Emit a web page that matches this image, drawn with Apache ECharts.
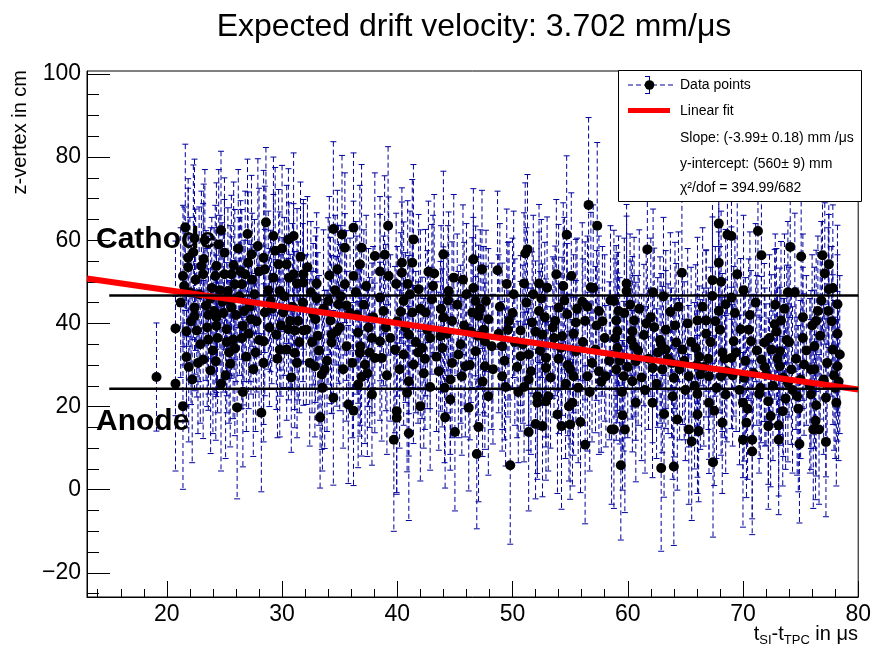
<!DOCTYPE html>
<html><head><meta charset="utf-8">
<script src="https://cdn.jsdelivr.net/npm/echarts@6/dist/echarts.min.js"></script>
<style>html,body{margin:0;padding:0;background:#fff}#c{width:874px;height:651px}</style>
</head><body><div id="c"></div>
<script>
// ---- data (t in µs, z in cm, error in cm) ----
const t1 = [19.1,20.75,20.75,21.4,21.7,21.7,22.6,21.6,21.85,21.4, 22.3,23.0,23.15,22.4,22.4,23.15,23.6,23.8,24.25,24.7, 24.7,25.0,24.2,24.3,25.0,25.6,24.3,24.3,25.2,25.5, 25.75,26.1,26.6,26.5,26.6,26.5,26.8,27.05,27.35,25.9, 27.9,27.6,28.2,25.6,23.4,21.85, 22.0,23.8,24.8,25.3,26.0,27.2,27.8,22.9,24.0,26.9, 27.5,28.0,23.3,26.2,27.0,22.2,25.4];
const z1 = [27.1,38.8,25.5,20.1,31.9,38.1,38.3,63.1,53.5,51.4, 57.1,53.8,51.8,43.8,41.8,31.3,36.1,28.7,30.9,25.5, 62.4,57.0,51.4,53.8,51.8,51.8,39.4,41.4,38.6,30.3, 36.1,19.8,23.5,36.5,39.4,49.4,51.8,54.6,56.6,49.4, 58.6,47.0,18.5,43.8,44.3,55.8, 47.5,46.0,45.2,47.8,42.0,44.0,40.5,35.0,33.5,32.0, 29.0,36.0,60.0,58.0,61.5,26.5,33.0];
const e1 = [13,21,21,20,17,18,16,20,19,17, 21,18,17,16,18,19,17,20,19,21, 19,18,17,20,18,19,17,18,16,20, 19,22,18,17,19,18,20,17,19,18, 21,18,19,17,18,19,18,17,19,20, 16,18,17,19,20,18,21,18,17,19, 18,20,17];
const t1b = [21.2,21.5,22.1,22.5,22.8,23.2,23.5,23.9,24.1,24.5, 24.9,25.2,25.5,25.8,26.3,26.7,27.1,27.4,27.7,28.0, 21.9,22.7,23.6,24.4,25.1,25.9,26.4,27.3,22.4,24.6];
const z1b = [45.0,49.0,40.5,50.5,47.0,55.5,39.0,48.5,43.0,59.0, 42.5,35.5,45.5,54.0,46.5,43.0,37.5,50.5,33.0,52.5, 29.5,30.5,42.0,36.5,27.5,34.0,52.5,41.0,60.5,48.0];
const e1b = [18,19,20,17,21,18,19,17,20,18, 19,17,18,20,19,17,18,16,19,20, 18,17,19,18,20,21,17,18,19,18];

const t2 = [28.6,29.25,31.0,30.55,28.4,29.7,30.4,31.0,29.25,31.85, 31.85,33.0,31.3,28.5,29.8,29.0,30.1,30.7,31.4,28.5, 29.5,30.55,31.1,31.85,28.4,29.8,30.4,31.1,28.4,31.3, 32.4,32.85,33.7,33.45,34.45,33.3,35.75,36.2,36.6,36.9, 37.8,35.6,36.75,37.2,38.05,34.3,34.3,34.75,34.2,36.6, 37.5,37.8,32.7,34.0,34.9,35.6,33.0,34.45,35.2,36.2, 36.9,35.45,36.75,35.45,36.2,38.05];
const z2 = [64.3,61.0,61.0,60.2,55.8,54.2,54.2,51.8,51.0,51.8, 49.8,49.6,49.6,53.0,47.8,45.4,42.6,40.6,40.6,42.6, 37.3,38.6,38.3,38.3,35.7,33.7,33.7,32.9,30.5,30.5, 30.5,29.7,28.9,27.7,22.1,17.4,20.5,19.0,25.3,27.1, 22.9,34.5,32.9,30.1,31.7,35.4,37.3,38.1,40.7,37.8, 39.0,36.5,42.2,45.4,44.6,44.3,46.0,62.7,61.4,63.0, 58.2,58.2,54.2,49.4,51.4,56.2];
const e2 = [18,19,20,17,21,18,19,17,20,18, 19,17,18,20,19,17,18,16,19,20, 18,17,19,18,20,21,17,18,19,18, 20,17,19,18,21,17,19,18,20,19, 17,18,20,19,18,17,19,18,20,17, 19,18,17,20,19,18,17,21,19,18, 20,18,19,17,18,20];
const t2b = [28.8,29.1,29.4,29.9,30.2,30.6,30.9,31.5,31.8,32.1, 32.5,32.9,33.2,33.6,33.9,34.6,35.0,35.3,35.9,36.4, 36.8,37.1,37.4,37.9,29.6,30.8,32.2,33.5,34.8,36.1, 37.3,28.9,31.6,33.1,35.1,36.5,37.6,30.0,32.6,34.1];
const z2b = [48.0,43.5,57.5,39.5,46.5,51.0,44.0,35.5,45.0,38.5, 47.5,41.0,33.5,43.5,31.0,48.0,39.0,29.0,42.5,47.5, 34.5,44.5,28.0,41.5,31.5,27.0,53.5,24.5,53.0,30.5, 49.0,39.0,56.0,37.0,46.5,42.0,33.0,58.0,35.5,51.5];
const e2b = [19,18,20,17,19,18,20,17,19,18, 17,20,18,19,17,18,20,19,18,17, 19,18,20,17,19,18,17,20,19,18, 17,19,18,20,17,19,18,20,17,19];

const t3 = [39.2,41.4,44.0,46.6,47.35,40.4,41.3,40.4,39.25,38.5, 42.7,44.9,41.85,44.45,46.0,43.0,38.5,40.55,46.8,47.7, 40.3,41.3,42.45,44.0,44.75,46.5,47.05,39.0,41.0,43.75, 42.85,38.5,47.6,39.8,42.15,43.9,46.8,38.65,40.55,41.4, 44.75,45.9,47.6,45.6,41.0,42.85,44.6,40.85,42.0,46.2, 47.9,39.95,39.95,44.15,45.0,41.0,39.7,47.05,46.9];
const z3 = [63.5,60.2,56.6,55.4,53.0,54.6,54.6,52.2,51.4,52.5, 52.4,51.0,48.2,47.8,47.0,45.8,46.2,45.4,45.4,45.4, 42.8,42.6,42.6,41.4,40.6,42.6,41.8,39.0,37.3,36.9, 36.5,35.7,35.7,33.7,34.1,34.1,33.3,31.7,32.5,30.1, 30.5,29.7,29.7,27.3,26.1,24.7,21.7,23.3,20.1,19.7, 22.5,18.9,17.3,17.4,13.9,13.6,12.0,15.1,8.6];
const e3 = [19,18,20,17,19,18,20,17,19,18, 17,20,18,19,17,18,20,19,18,17, 19,18,20,17,19,18,17,20,19,18, 17,19,18,20,17,19,18,20,17,19, 18,17,20,19,18,20,17,19,18,20, 19,20,18,17,19,21,22,18,18];
const t3b = [38.8,39.4,39.9,40.2,40.7,41.1,41.6,42.0,42.3,42.6, 43.1,43.4,43.8,44.3,44.6,45.2,45.5,45.8,46.3,46.6, 47.0,47.4,47.9,48.2,39.1,40.0,41.8,43.2,44.4,45.3, 46.4,47.2,48.3,40.9,42.4,43.6,45.7,47.5,38.9,44.1];
const z3b = [43.0,36.5,49.5,29.0,39.0,47.0,35.5,43.5,28.0,38.5, 49.0,32.0,43.5,37.5,26.5,44.5,35.0,39.5,30.0,48.5, 37.0,26.0,41.0,34.5,27.5,40.5,33.0,52.0,45.5,32.5, 38.0,43.5,29.0,49.5,31.5,28.5,50.5,38.5,56.5,24.5];
const e3b = [18,20,17,19,18,20,17,19,18,19, 17,18,20,19,18,17,19,20,18,17, 19,18,17,20,19,18,17,19,18,20, 17,19,18,20,17,19,18,20,19,18];

const t4 = [56.6,57.35,54.7,51.3,51.1,48.7,53.8,55.1,51.0,52.3, 56.8,50.1,53.0,56.05,58.5,54.0,54.75,52.3,57.5,49.7, 51.7,53.7,55.5,56.3,50.7,52.6,54.3,49.1,50.7,51.4, 52.9,54.2,55.5,57.2,52.9,49.1,51.4,55.3,56.5,57.5, 58.1,49.4,51.0,52.15,52.15,52.9,54.9,55.2,53.9,52.0, 52.6,51.4,54.25,55.0,55.9,56.3,58.6,49.8];
const z4 = [68.5,63.5,61.3,57.8,56.8,52.8,51.8,51.4,49.6,49.6, 48.7,47.0,48.6,45.2,45.5,43.8,42.2,43.0,43.0,40.6, 40.2,40.6,40.2,40.6,38.3,37.3,36.9,34.5,32.1,32.5, 31.7,34.1,33.3,33.7,29.3,27.3,26.5,27.3,27.3,28.5, 27.3,24.7,24.7,22.5,20.9,21.3,20.1,20.9,18.1,15.8, 15.3,13.9,15.3,15.7,16.3,10.8,14.5,5.9];
const e4 = [21,20,19,18,17,19,18,20,17,19, 18,20,17,19,18,20,17,19,18,19, 17,18,20,19,18,17,19,20,18,17, 19,18,17,20,19,18,17,19,18,20, 17,19,18,20,17,19,18,20,19,18, 17,19,20,18,17,19,18,19];
const t4b = [48.9,49.3,49.6,50.0,50.4,50.9,51.2,51.6,52.0,52.4, 52.8,53.3,53.6,54.0,54.5,54.8,55.3,55.7,56.1,56.5, 56.9,57.3,57.7,58.0,58.4,49.5,50.5,51.8,53.1,54.4, 55.6,56.7,57.8,50.2,52.5,53.5,55.0,57.0,48.8,54.6];
const z4b = [44.0,31.0,38.5,42.5,29.5,35.0,45.0,28.5,38.0,33.5, 41.5,27.0,36.5,31.5,45.5,30.0,37.5,24.5,35.5,44.0, 30.5,39.5,26.0,36.5,31.0,49.5,23.5,47.0,22.5,49.0, 43.5,23.5,40.5,35.5,46.0,39.0,29.0,48.5,37.5,25.5];
const e4b = [20,19,21,18,17,19,18,20,17,19, 18,17,19,18,20,17,19,18,20,17, 19,18,17,20,19,18,17,19,18,20, 17,19,18,20,19,17,18,20,19,18];

const t5 = [67.9,68.65,61.7,64.7,67.9,59.9,59.9,67.35,68.1,67.35, 68.5,58.8,63.7,59.0,60.55,61.6,62.3,65.2,66.05,66.8, 59.1,60.4,61.4,66.8,64.2,59.1,60.55,63.3,64.75,65.9, 59.0,60.7,62.15,63.0,64.0,65.3,66.3,67.05,68.1,59.65, 60.4,60.7,62.15,66.05,67.05,68.5,59.55,63.15,64.3,66.05, 67.5,68.2,58.8,59.75,65.3,66.15,65.55,59.4,62.9,64.0, 67.4,67.0,68.2,63.5,62.8];
const z5 = [64.0,61.3,57.8,52.2,54.6,49.6,47.8,50.4,50.0,46.6, 44.6,45.4,42.8,40.7,40.7,40.0,39.1,40.0,40.7,40.7, 38.1,38.1,37.2,37.5,35.4,34.1,34.5,33.7,33.7,34.1, 28.9,30.9,29.3,28.9,26.9,27.3,27.7,27.3,27.3,27.3, 26.1,20.9,20.9,23.0,20.9,22.9,17.9,18.2,16.9,18.1, 19.0,16.1,14.5,14.5,14.5,14.1,11.6,5.9,5.2,5.6, 6.6,31.5,33.0,31.5,36.0];
const e5 = [20,19,21,18,17,19,18,20,17,19, 18,17,19,18,20,17,19,18,20,17, 19,18,17,20,19,18,17,19,18,20, 17,19,18,20,19,17,18,20,19,18, 17,19,18,20,17,19,18,20,17,19, 18,17,19,20,18,17,19,18,20,19, 18,17,19,18,20];
const t5b = [58.9,59.3,59.7,60.0,60.3,60.9,61.2,61.8,62.0,62.5, 62.9,63.3,63.8,64.1,64.5,64.9,65.5,65.8,66.2,66.6, 67.2,67.7,68.0,68.4,59.5,60.2,61.0,62.6,63.9,65.0, 66.5,67.6,68.6,61.5,63.1,64.4,66.0,67.9,59.2,62.2];
const z5b = [36.5,31.0,42.5,29.5,36.0,33.5,27.0,31.5,41.5,25.5, 35.0,38.5,30.5,39.5,29.0,31.0,35.5,25.0,32.0,29.5, 35.5,24.5,38.5,31.5,23.5,44.5,43.5,33.0,22.5,24.0, 44.0,40.5,28.5,24.0,46.5,44.0,30.0,43.0,43.0,47.5];
const e5b = [19,20,18,17,19,18,20,17,19,18, 17,19,18,20,17,19,18,20,17,19, 18,17,20,19,18,17,19,18,20,17, 19,18,17,20,19,18,17,19,18,20];

const t6 = [71.3,69.0,71.6,74.1,75.05,76.9,77.45,77.1,69.5,70.05, 73.9,74.5,77.45,77.8,69.0,78.2,76.5,77.4,76.35,73.3, 72.75,69.8,72.9,78.2,69.2,70.7,71.85,72.45,73.2,75.2, 76.2,77.8,69.0,71.6,73.2,74.2,75.3,75.9,78.2,70.1, 72.0,73.9,70.0,72.2,73.7,74.7,75.9,76.35,77.2,78.1, 73.45,72.4,76.3,70.3,72.2,73.1,76.1,76.6,70.0,70.8, 70.8,73.1,74.9,77.2];
const z6 = [62.2,61.0,56.4,58.4,56.1,56.4,54.2,52.0,51.8,48.0, 47.5,47.5,48.2,48.5,46.2,44.6,43.0,43.0,40.6,40.7, 39.8,38.6,38.0,37.5,35.7,35.7,35.4,33.7,33.3,36.5, 34.5,33.7,31.7,31.3,29.7,28.9,30.1,28.9,29.7,26.9, 27.7,25.7,20.9,21.3,21.9,22.5,22.9,20.3,22.1,20.9, 18.9,17.7,16.6,16.1,15.3,15.5,14.5,14.5,12.0,12.0, 9.2,12.0,11.0,11.5];
const e6 = [19,20,18,17,19,18,20,17,19,18, 17,19,18,20,17,19,18,20,17,19, 18,17,20,19,18,17,19,18,20,17, 19,18,17,20,19,18,17,19,18,20, 17,19,18,20,17,19,18,17,19,20, 18,17,19,18,20,17,19,18,21,19, 20,18,19,18];
const t6b = [69.1,69.4,69.7,70.2,70.5,70.9,71.2,71.5,71.9,72.3, 72.6,73.0,73.5,73.8,74.3,74.6,75.0,75.5,75.8,76.2, 76.7,77.0,77.3,77.7,78.0,78.4,69.3,70.6,71.4,72.8, 74.0,75.2,76.8,77.9,70.4,71.1,73.6,74.8,76.0,78.3];
const z6b = [27.5,33.0,24.0,31.0,38.5,28.0,33.5,24.5,29.5,36.5, 25.0,31.5,27.0,36.0,24.0,31.5,26.5,33.5,25.0,29.0, 37.0,26.5,30.5,40.5,24.5,32.5,42.5,42.0,23.0,44.5, 35.5,41.5,45.5,27.5,19.5,45.0,43.5,19.5,39.5,26.0];
const e6b = [17,19,18,20,17,19,18,17,19,20, 18,17,19,18,20,17,19,18,21,19, 20,18,19,18,17,19,18,20,19,17, 18,20,19,18,17,19,18,20,17,19];

// fit result (from legend): slope -3.99 mm/µs, intercept 560 mm
const fitSlope = -0.399;      // cm / µs
const fitIntercept = 56.0;    // cm
const cathodeZ = 46.7;
const anodeZ = 24.3;
const levelRange = [15, 80];

const xMin = 13.07, xMax = 80;
const yMin = -25.8, yMax = 100.7;
const xMajorTicks = [20, 30, 40, 50, 60, 70, 80];
const xMinorTicks = [14, 16, 18, 22, 24, 26, 28, 32, 34, 36, 38, 42, 44, 46, 48, 52, 54, 56, 58, 62, 64, 66, 68, 72, 74, 76, 78];
const yMajorTicks = [-20, 0, 20, 40, 60, 80, 100];
const yMinorTicks = [-25, -15, -10, -5, 5, 10, 15, 25, 30, 35, 45, 50, 55, 65, 70, 75, 85, 90, 95];

const titleText = 'Expected drift velocity: 3.702 mm/\u03bcs';
const legendLines = ['Data points', 'Linear fit', 'Slope: (-3.99\u00b1 0.18) mm /\u03bcs', 'y-intercept: (560\u00b1 9) mm', '\u03c7\u00b2/dof = 394.99/682'];

// ---- build ----
const tAll = [].concat(t1, t1b, t2, t2b, t3, t3b, t4, t4b, t5, t5b, t6, t6b);
const zAll = [].concat(z1, z1b, z2, z2b, z3, z3b, z4, z4b, z5, z5b, z6, z6b);
const eAll = [].concat(e1, e1b, e2, e2b, e3, e3b, e4, e4b, e5, e5b, e6, e6b);
const pts = [];
for (let i = 0; i < tAll.length; i++) {
  if (zAll[i] === undefined) continue;
  pts.push([tAll[i], zAll[i], eAll[i] === undefined ? 18 : eAll[i]]);
}
const F = '"Liberation Sans", Arial, Helvetica, sans-serif';
const BLUE = '#00009e';

function errRender(params, api) {
  const x = api.value(0), y = api.value(1), e = api.value(2);
  const top = api.coord([x, y + e]);
  const bot = api.coord([x, y - e]);
  const cw = 3;
  return {
    type: 'group',
    children: [
      { type: 'line', shape: { x1: top[0], y1: top[1], x2: bot[0], y2: bot[1] }, style: { stroke: BLUE, lineWidth: 1, lineDash: [5, 3] } },
      { type: 'line', shape: { x1: top[0] - cw, y1: top[1], x2: top[0] + cw, y2: top[1] }, style: { stroke: BLUE, lineWidth: 1 } },
      { type: 'line', shape: { x1: bot[0] - cw, y1: bot[1], x2: bot[0] + cw, y2: bot[1] }, style: { stroke: BLUE, lineWidth: 1 } }
    ]
  };
}

const chart = echarts.init(document.getElementById('c'));
const axisCommon = { type: 'value', splitLine: { show: false } };
const LZ = 100;
const option = {
  animation: false,
  backgroundColor: '#fff',
  grid: { left: 87, right: 14, top: 71, bottom: 54, show: true, borderColor: '#000', borderWidth: 1, backgroundColor: 'rgba(0,0,0,0)' },
  xAxis: [
    Object.assign({}, axisCommon, { min: xMin, max: xMax, position: 'bottom',
      axisLine: { show: true, onZero: false, lineStyle: { color: '#000', width: 1 } },
      axisTick: { show: true, inside: true, length: 16, customValues: xMajorTicks, lineStyle: { color: '#000' } },
      axisLabel: { show: true, customValues: xMajorTicks, color: '#000', fontSize: 23, fontFamily: F, margin: 6 } }),
    Object.assign({}, axisCommon, { min: xMin, max: xMax, position: 'bottom',
      axisLine: { show: false, onZero: false },
      axisTick: { show: true, inside: true, length: 8, customValues: xMinorTicks, lineStyle: { color: '#000' } },
      axisLabel: { show: false } })
  ],
  yAxis: [
    Object.assign({}, axisCommon, { min: yMin, max: yMax, position: 'left',
      axisLine: { show: true, onZero: false, lineStyle: { color: '#000', width: 1 } },
      axisTick: { show: true, inside: true, length: 23, customValues: yMajorTicks, lineStyle: { color: '#000' } },
      axisLabel: { show: true, customValues: yMajorTicks, color: '#000', fontSize: 23, fontFamily: F, margin: 6,
        formatter: v => (v < 0 ? '\u2212' + Math.abs(v) : String(v)) } }),
    Object.assign({}, axisCommon, { min: yMin, max: yMax, position: 'left',
      axisLine: { show: false, onZero: false },
      axisTick: { show: true, inside: true, length: 12, customValues: yMinorTicks, lineStyle: { color: '#000' } },
      axisLabel: { show: false } })
  ],
  series: [
    { type: 'custom', renderItem: errRender, data: pts, encode: { x: 0, y: 1 }, clip: true, z: 2, silent: true },
    { type: 'scatter', data: pts.map(p => [p[0], p[1]]), symbol: 'circle', symbolSize: 10, itemStyle: { color: '#000', opacity: 1 }, z: 3, silent: true },
    { type: 'line', data: [[xMin, fitIntercept + fitSlope * xMin], [xMax, fitIntercept + fitSlope * xMax]], showSymbol: false, symbol: 'none', lineStyle: { color: '#ff0000', width: 6 }, z: 4, silent: true },
    { type: 'line', data: [[levelRange[0], cathodeZ], [levelRange[1], cathodeZ]], symbol: 'none', lineStyle: { color: '#000', width: 2.5 }, z: 5, silent: true },
    { type: 'line', data: [[levelRange[0], anodeZ], [levelRange[1], anodeZ]], symbol: 'none', lineStyle: { color: '#000', width: 2.5 }, z: 5, silent: true }
  ],
  graphic: [
    { type: 'text', x: 474, y: 27, z: 50, style: { text: titleText, font: '32px ' + F, fill: '#000', align: 'center', verticalAlign: 'middle' } },
    { type: 'text', x: 20, y: 70, rotation: Math.PI / 2, z: 50, style: { text: 'z-vertex in cm', font: '20px ' + F, fill: '#000', align: 'right', verticalAlign: 'middle' } },
    { type: 'text', x: 858, y: 634, z: 50, style: {
        text: '{a|t}{s|SI}{a|-t}{s|TPC}{a| in \u03bcs}', align: 'right', verticalAlign: 'middle',
        rich: { a: { fontSize: 20, fontFamily: F, lineHeight: 26, verticalAlign: 'middle', fill: '#000' },
                s: { fontSize: 13, fontFamily: F, lineHeight: 13, verticalAlign: 'bottom', fill: '#000' } } } },
    { type: 'text', x: 96, y: 240, z: 60, style: { text: 'Cathode', font: 'bold 30px ' + F, fill: '#000', align: 'left', verticalAlign: 'middle' } },
    { type: 'text', x: 96, y: 422, z: 60, style: { text: 'Anode', font: 'bold 30px ' + F, fill: '#000', align: 'left', verticalAlign: 'middle' } },
    { type: 'rect', z: LZ, shape: { x: 618.5, y: 70.5, width: 243, height: 131 }, style: { fill: '#fff', stroke: '#000', lineWidth: 1 } },
    { type: 'line', z: LZ + 1, shape: { x1: 628, y1: 85, x2: 674, y2: 85 }, style: { stroke: BLUE, lineWidth: 1, lineDash: [5, 3] } },
    { type: 'line', z: LZ + 1, shape: { x1: 649.5, y1: 76, x2: 649.5, y2: 94 }, style: { stroke: BLUE, lineWidth: 1 } },
    { type: 'line', z: LZ + 1, shape: { x1: 645, y1: 76.5, x2: 650, y2: 76.5 }, style: { stroke: BLUE, lineWidth: 1 } },
    { type: 'line', z: LZ + 1, shape: { x1: 645, y1: 93.5, x2: 650, y2: 93.5 }, style: { stroke: BLUE, lineWidth: 1 } },
    { type: 'circle', z: LZ + 2, shape: { cx: 649.5, cy: 85, r: 4.8 }, style: { fill: '#000' } },
    { type: 'rect', z: LZ + 1, shape: { x: 628, y: 108, width: 42, height: 5 }, style: { fill: '#ff0000' } },
    { type: 'text', z: LZ + 1, x: 680, y: 85, style: { text: legendLines[0], font: '14px ' + F, fill: '#000', verticalAlign: 'middle' } },
    { type: 'text', z: LZ + 1, x: 680, y: 111, style: { text: legendLines[1], font: '14px ' + F, fill: '#000', verticalAlign: 'middle' } },
    { type: 'text', z: LZ + 1, x: 680, y: 138, style: { text: legendLines[2], font: '14px ' + F, fill: '#000', verticalAlign: 'middle' } },
    { type: 'text', z: LZ + 1, x: 680, y: 164, style: { text: legendLines[3], font: '14px ' + F, fill: '#000', verticalAlign: 'middle' } },
    { type: 'text', z: LZ + 1, x: 680, y: 188, style: { text: legendLines[4], font: '14px ' + F, fill: '#000', verticalAlign: 'middle' } }
  ]
};
chart.setOption(option);
</script>
</body></html>
